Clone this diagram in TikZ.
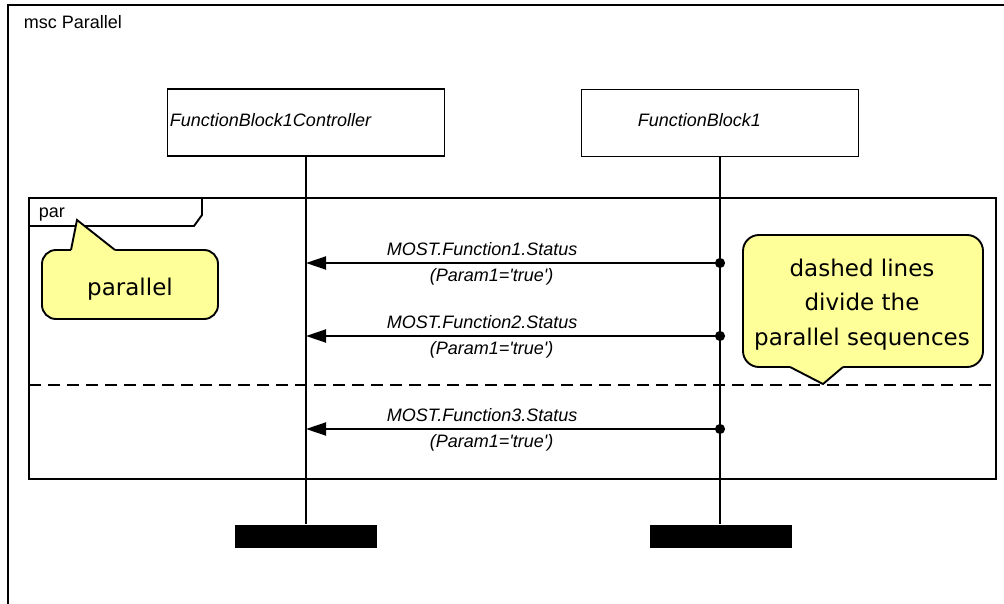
\documentclass[tikz,border=0pt]{standalone}
\usepackage{fontspec}
\setmainfont{Liberation Sans}
\newfontfamily\notefont{DejaVu Sans}
\usetikzlibrary{arrows.meta}
\definecolor{notefill}{RGB}{255,255,153}
\begin{document}
\begin{tikzpicture}[x=1pt,y=-1pt,line width=1.9pt,line join=miter,
  lbl/.style={font=\fontsize{18}{21.6}\selectfont\itshape,inner sep=0pt},
  plain/.style={font=\fontsize{18}{21.6}\selectfont,inner sep=0pt},
  lifebox/.style={draw,fill=white,minimum width=277pt,minimum height=67pt,inner sep=0pt},
  endbar/.style={fill=black,minimum width=142pt,minimum height=23pt,inner sep=0pt},
  msg/.style={{Circle[length=10pt]}-{Triangle[length=20pt,width=13pt]},shorten <=-5pt},
  notebox/.style={draw,fill=notefill,inner sep=0pt},
  notetext/.style={font=\notefont\fontsize{23}{34.5}\selectfont,align=center,inner sep=0pt}]
\useasboundingbox (0,0) rectangle (1004,604);
\clip (0,0) rectangle (1004,604);

% outer msc frame (runs past the page on the right and bottom)
\draw (8,620) -- (8,5) -- (1020,5);
\node[plain,anchor=base west] (title) at (23,29) {msc Parallel};

% par combined fragment
\draw (29,198) rectangle (996,479);
\draw (29,226) -- (194,226) -- (202,215) -- (202,198);
\node[plain,anchor=base west] (parlbl) at (38,218) {par};
\draw[dash pattern=on 12pt off 7pt] (29,385) -- (996,385);

% instances
\node[lifebox] (ctrl) at (306,122.5) {};
\node[lbl,anchor=base west] (ctrlname) at (169,127) {FunctionBlock1Controller};
\node[lifebox] (fb) at (720,123) {};
\node[lbl,anchor=base west] (fbname) at (637,127) {FunctionBlock1};
\node[endbar] (ctrlend) at (306,536.5) {};
\node[endbar] (fbend) at (720.5,536.5) {};
\draw (ctrl.south) -- (ctrlend.north);
\draw (fb.south) -- (fb.south |- fbend.north);

% messages
\coordinate (c1) at (306,263); \coordinate (f1) at (720,263);
\coordinate (c2) at (306,336); \coordinate (f2) at (720,336);
\coordinate (c3) at (306,429); \coordinate (f3) at (720,429);
\draw[msg] (f1) -- (c1);
\draw[msg] (f2) -- (c2);
\draw[msg] (f3) -- (c3);
\node[lbl,anchor=base west] (m1) at (386,255.5) {MOST.Function1.Status};
\node[lbl,anchor=base west] (p1) at (429,281) {(Param1=\textquotesingle true\textquotesingle)};
\node[lbl,anchor=base west] (m2) at (386,328) {MOST.Function2.Status};
\node[lbl,anchor=base west] (p2) at (429,354) {(Param1=\textquotesingle true\textquotesingle)};
\node[lbl,anchor=base west] (m3) at (386,421) {MOST.Function3.Status};
\node[lbl,anchor=base west] (p3) at (429,447) {(Param1=\textquotesingle true\textquotesingle)};

% note: parallel
\node[notebox,rounded corners=14pt,minimum width=176pt,minimum height=69pt] (parnote) at (130,284.5) {};
\fill[notefill] (71,252) -- (71,250) -- (77,220) -- (115,250) -- (115,252) -- cycle;
\draw (71,250) -- (77,220) -- (115,250);
\node[notetext] (parnotetext) at (130,289) {parallel};

% note: dashed lines
\node[notebox,rounded corners=16pt,minimum width=240pt,minimum height=132pt] (dashnote) at (863,301) {};
\fill[notefill] (790,365) -- (790,367) -- (823,384) -- (843,367) -- (843,365) -- cycle;
\draw (790,367) -- (823,384) -- (843,367);
\node[notetext] (dashnotetext) at (862,304.5) {dashed lines\\divide the\\parallel sequences};
\end{tikzpicture}
\end{document}
